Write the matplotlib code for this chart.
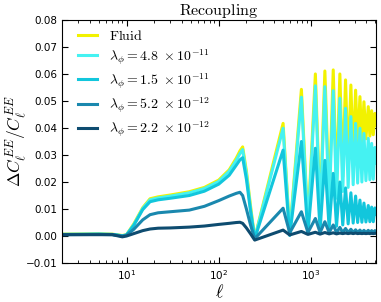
import matplotlib
matplotlib.use("Agg")
import matplotlib.pyplot as plt
from matplotlib.font_manager import FontProperties

# multipoles (peak / trough knots)
ell = [2, 5, 7, 9, 10, 12, 15, 18, 22, 30, 48, 70, 100, 130, 155, 170, 182, 200, 222, 246,
       500, 590, 790, 930, 1120, 1260, 1420, 1580, 1750, 1900, 2065, 2220, 2380, 2540,
       2720, 2880, 3060, 3220, 3410, 3580, 3770, 3960, 4200, 4370, 4570, 4760, 4960, 5100]

fluid = [0.0007, 0.0008, 0.0007, 0.0002, 0.0005, 0.0045, 0.0105, 0.0138, 0.0145, 0.0152,
         0.0164, 0.0180, 0.0207, 0.0245, 0.0288, 0.0315, 0.0330, 0.0240, 0.0110, -0.0008,
         0.0417, 0.0008, 0.0543, 0.0040, 0.0600, 0.0090, 0.0611, 0.0140, 0.0615, 0.0180,
         0.0600, 0.0220, 0.0578, 0.0260, 0.0559, 0.0290, 0.0540, 0.0320, 0.0516, 0.0345,
         0.0497, 0.0360, 0.0479, 0.0370, 0.0464, 0.0375, 0.0454, 0.0410]

lam48 = [0.0006, 0.0007, 0.0006, 0.0001, 0.0004, 0.0042, 0.0102, 0.0134, 0.0141, 0.0148,
         0.0160, 0.0176, 0.0202, 0.0240, 0.0280, 0.0305, 0.0320, 0.0230, 0.0100, -0.0009,
         0.0399, 0.0005, 0.0514, 0.0030, 0.0556, 0.0075, 0.0553, 0.0110, 0.0538, 0.0140,
         0.0510, 0.0165, 0.0473, 0.0180, 0.0442, 0.0190, 0.0417, 0.0196, 0.0399, 0.0200,
         0.0380, 0.0205, 0.0362, 0.0208, 0.0343, 0.0210, 0.0328, 0.0270]

lam15 = [0.0006, 0.0007, 0.0006, 0.0001, 0.0004, 0.0040, 0.0098, 0.0127, 0.0134, 0.0140,
         0.0150, 0.0166, 0.0192, 0.0225, 0.0262, 0.0282, 0.0290, 0.0210, 0.0090, -0.0010,
         0.0318, 0.0002, 0.0350, 0.0012, 0.0325, 0.0022, 0.0280, 0.0030, 0.0232, 0.0036,
         0.0200, 0.0041, 0.0178, 0.0045, 0.0160, 0.0048, 0.0148, 0.0050, 0.0133, 0.0051,
         0.0122, 0.0052, 0.0113, 0.0053, 0.0107, 0.0053, 0.0104, 0.0080]

lam52 = [0.0005, 0.0006, 0.0005, 0.0000, 0.0003, 0.0025, 0.0060, 0.0079, 0.0086, 0.0090,
         0.0096, 0.0110, 0.0131, 0.0148, 0.0158, 0.0162, 0.0150, 0.0100, 0.0040, -0.0010,
         0.0103, 0.0012, 0.0090, 0.0013, 0.0065, 0.0013, 0.0053, 0.0013, 0.0041, 0.0013,
         0.0032, 0.0013, 0.0028, 0.0013, 0.0025, 0.0013, 0.0023, 0.0013, 0.0022, 0.0013,
         0.0021, 0.0013, 0.0021, 0.0013, 0.0020, 0.0013, 0.0020, 0.0016]

lam22 = [0.0005, 0.0005, 0.0005, -0.0003, 0.0000, 0.0009, 0.0020, 0.0026, 0.0029, 0.0030,
         0.0033, 0.0037, 0.0043, 0.0047, 0.0050, 0.0051, 0.0047, 0.0030, 0.0008, -0.0015,
         0.0022, 0.0004, 0.0017, 0.0006, 0.0014, 0.0007, 0.0013, 0.0008, 0.0012, 0.0008,
         0.0011, 0.0009, 0.0011, 0.0009, 0.0011, 0.0009, 0.0011, 0.0009, 0.0010, 0.0009,
         0.0010, 0.0009, 0.0010, 0.0009, 0.0010, 0.0009, 0.0010, 0.0010]

labels = [r'$\mathrm{Fluid}$',
          r'$\lambda_\phi =4.8\ \times 10^{-11}$',
          r'$\lambda_\phi =1.5\ \times 10^{-11}$',
          r'$\lambda_\phi =5.2\ \times 10^{-12}$',
          r'$\lambda_\phi =2.2\ \times 10^{-12}$']
colors = ['#f2f200', '#45f2f2', '#12c6dc', '#1a88ae', '#0e4c70']

plt.rcParams['xtick.direction'] = 'in'
plt.rcParams['ytick.direction'] = 'in'
plt.rcParams['xtick.top'] = True
plt.rcParams['ytick.right'] = True

fig = plt.figure(figsize=(3.81, 3.02), dpi=100)
ax = fig.add_axes([0.163, 0.129, 0.824, 0.805])

for y, lab, c in zip([fluid, lam48, lam15, lam52, lam22], labels, colors):
    ax.plot(ell, y, color=c, lw=2.2, label=lab)

ax.set_xscale('log')
ax.set_xlim(2, 5100)
ax.set_ylim(-0.01, 0.08)
ax.set_yticks([-0.01, 0, 0.01, 0.02, 0.03, 0.04, 0.05, 0.06, 0.07, 0.08])
ax.tick_params(labelsize=7.5, length=4)
ax.tick_params(which='minor', length=2)

ax.set_title(r'$\mathrm{Recoupling}$', fontsize=11.5, math_fontfamily='cm', pad=2)
ax.set_xlabel(r'$\ell$', fontsize=13, math_fontfamily='cm', labelpad=1)
ax.set_ylabel(r'$\Delta C_\ell^{EE}/C_\ell^{EE}$', fontsize=12.5, math_fontfamily='cm')
ax.yaxis.set_label_coords(-0.105, 0.5)

leg = ax.legend(loc='upper left', bbox_to_anchor=(0.015, 1.01), frameon=False,
                prop=FontProperties(size=10, math_fontfamily='cm'),
                handlelength=1.35, handletextpad=0.9, labelspacing=0.3,
                borderaxespad=0.4)

fig.savefig('out.png', dpi=100)
